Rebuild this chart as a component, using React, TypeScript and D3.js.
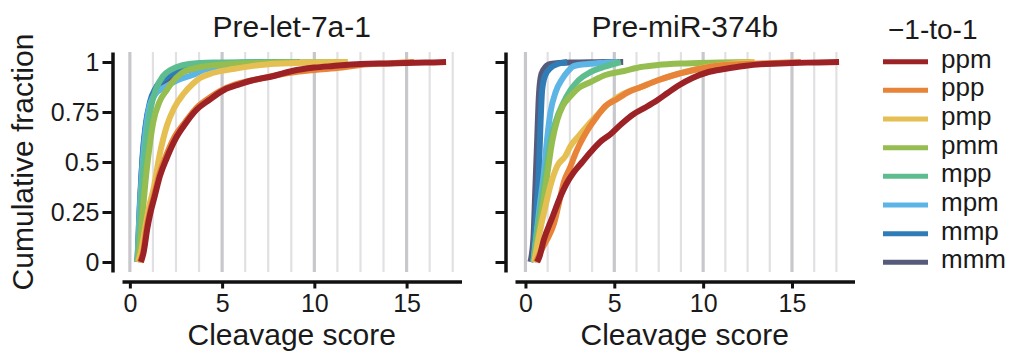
import React, { useRef, useEffect } from 'react';
import * as d3 from 'd3';

// series (legend order, top to bottom)
const series = ['ppm', 'ppp', 'pmp', 'pmm', 'mpp', 'mpm', 'mmp', 'mmm'];
const seriesColors = ['#9c2226', '#e8833a', '#e6bf52', '#95bd4f', '#5ebd8f', '#5cb5e5', '#2f7cb7', '#575b7b'];
const panelTitles = ['Pre-let-7a-1', 'Pre-miR-374b'];
const xTicks = [0, 5, 10, 15];
const gridBreaks = [0, 1.25, 2.5, 3.75, 5, 6.25, 7.5, 8.75, 10, 11.25, 12.5, 13.75, 15, 16.25, 17.5];
const yTicks = [0, 0.25, 0.5, 0.75, 1];

// Pre-let-7a-1: [cleavage score, cumulative fraction]
const let7_ppm = [[0.6, 0], [0.75, 0.05], [0.95, 0.17], [1.1, 0.24], [1.35, 0.33], [1.63, 0.43], [2.0, 0.52], [2.5, 0.62], [3.0, 0.69], [3.6, 0.76], [4.3, 0.81], [5.1, 0.86], [6.0, 0.89], [6.5, 0.905], [7.8, 0.93], [8.8, 0.955], [10.0, 0.972], [11.0, 0.98], [12.5, 0.99], [14.0, 0.993], [15.5, 0.996], [16.5, 0.998], [17.14, 1]];
const let7_ppp = [[0.55, 0], [0.72, 0.05], [0.92, 0.18], [1.08, 0.25], [1.33, 0.34], [1.6, 0.44], [2.0, 0.54], [2.45, 0.63], [3.0, 0.7], [3.6, 0.77], [4.3, 0.82], [5.1, 0.865], [6.0, 0.895], [7.0, 0.915], [8.0, 0.935], [9.0, 0.95], [10.0, 0.96], [11.5, 0.972], [12.5, 0.985], [14.0, 0.993], [15.4, 1]];
const let7_pmp = [[0.45, 0], [0.6, 0.05], [0.85, 0.18], [1.05, 0.28], [1.27, 0.36], [1.6, 0.53], [2.0, 0.68], [2.4, 0.77], [2.9, 0.84], [3.4, 0.89], [3.8, 0.92], [4.5, 0.945], [5.6, 0.965], [6.5, 0.978], [7.4, 0.988], [9.0, 0.995], [10.5, 0.998], [11.8, 1]];
const let7_pmm = [[0.42, 0], [0.55, 0.08], [0.7, 0.25], [0.9, 0.45], [1.1, 0.6], [1.27, 0.7], [1.6, 0.8], [2.0, 0.86], [2.5, 0.92], [2.9, 0.95], [3.6, 0.97], [4.7, 0.985], [6.0, 0.993], [8.0, 0.997], [10.0, 0.999], [11.8, 1]];
const let7_mpp = [[0.41, 0], [0.52, 0.15], [0.72, 0.45], [0.9, 0.63], [1.09, 0.75], [1.4, 0.86], [1.8, 0.93], [2.2, 0.96], [2.54, 0.975], [3.2, 0.99], [4.5, 0.997], [6.5, 0.999], [8.7, 1]];
const let7_mpm = [[0.41, 0], [0.5, 0.2], [0.66, 0.45], [0.85, 0.65], [1.0, 0.75], [1.3, 0.83], [2.0, 0.88], [2.6, 0.91], [3.4, 0.935], [4.0, 0.96], [4.7, 0.975], [6.0, 0.99], [7.5, 0.996], [9.1, 1]];
const let7_mmp = [[0.42, 0], [0.52, 0.2], [0.69, 0.53], [0.85, 0.68], [1.09, 0.8], [1.4, 0.87], [2.0, 0.925], [2.6, 0.955], [3.5, 0.975], [5.0, 0.99], [7.4, 1]];
const let7_mmm = [[0.41, 0], [0.52, 0.25], [0.72, 0.55], [0.9, 0.7], [1.15, 0.8], [1.5, 0.86], [2.0, 0.91], [2.8, 0.95], [4.0, 0.975], [6.0, 0.992], [8.5, 0.998], [9.2, 1]];

// Pre-miR-374b
const mir_ppm = [[0.66, 0], [0.8, 0.03], [1.03, 0.11], [1.5, 0.22], [1.98, 0.33], [2.3, 0.39], [2.73, 0.45], [3.2, 0.5], [3.67, 0.55], [4.2, 0.6], [4.8, 0.64], [5.4, 0.69], [6.1, 0.74], [6.8, 0.775], [7.44, 0.81], [8.0, 0.845], [8.57, 0.88], [9.4, 0.92], [10.3, 0.95], [11.2, 0.965], [12.3, 0.98], [13.5, 0.99], [15.0, 0.995], [16.5, 0.998], [17.65, 1]];
const mir_ppp = [[0.6, 0], [0.9, 0.06], [1.2, 0.11], [1.6, 0.19], [1.9, 0.3], [2.16, 0.4], [2.5, 0.47], [2.85, 0.55], [3.5, 0.66], [4.05, 0.73], [4.5, 0.78], [5.07, 0.81], [5.8, 0.85], [6.5, 0.875], [7.5, 0.91], [8.57, 0.94], [9.5, 0.96], [10.5, 0.978], [11.2, 0.985], [12.5, 0.99], [14.0, 0.995], [15.5, 1]];
const mir_pmp = [[0.5, 0], [0.7, 0.1], [0.9, 0.19], [1.13, 0.28], [1.4, 0.38], [1.79, 0.48], [2.25, 0.53], [2.54, 0.58], [3.0, 0.63], [3.67, 0.7], [4.2, 0.75], [4.8, 0.8], [5.5, 0.84], [6.5, 0.875], [7.5, 0.91], [8.57, 0.94], [9.5, 0.962], [10.3, 0.976], [11.5, 0.99], [12.9, 1]];
const mir_pmm = [[0.5, 0], [0.7, 0.12], [1.0, 0.3], [1.23, 0.44], [1.5, 0.6], [1.79, 0.71], [2.1, 0.78], [2.54, 0.83], [3.0, 0.87], [3.67, 0.9], [4.5, 0.935], [5.55, 0.955], [6.5, 0.975], [7.44, 0.985], [9.0, 0.993], [11.0, 0.998], [12.7, 1]];
const mir_mpp = [[0.45, 0], [0.65, 0.15], [0.9, 0.3], [1.13, 0.44], [1.4, 0.6], [1.69, 0.7], [2.1, 0.79], [2.54, 0.86], [3.0, 0.91], [3.67, 0.95], [4.4, 0.975], [5.37, 1]];
const mir_mpm = [[0.45, 0], [0.6, 0.12], [0.8, 0.28], [1.03, 0.44], [1.2, 0.6], [1.41, 0.75], [1.7, 0.85], [2.07, 0.915], [2.4, 0.955], [2.73, 0.98], [3.5, 0.99], [4.5, 0.997], [5.2, 1]];
const mir_mmp = [[0.45, 0], [0.55, 0.15], [0.65, 0.3], [0.75, 0.44], [0.85, 0.7], [0.94, 0.86], [1.1, 0.93], [1.41, 0.97], [1.8, 0.99], [2.35, 1]];
const mir_mmm = [[0.28, 0], [0.45, 0.12], [0.55, 0.35], [0.66, 0.61], [0.75, 0.82], [0.85, 0.92], [1.0, 0.96], [1.4, 0.99], [2.5, 0.997], [4.0, 0.999], [5.5, 1]];

const let7Curves = [let7_ppm, let7_ppp, let7_pmp, let7_pmm, let7_mpp, let7_mpm, let7_mmp, let7_mmm];
const mirCurves = [mir_ppm, mir_ppp, mir_pmp, mir_pmm, mir_mpp, mir_mpm, mir_mmp, mir_mmm];

const FONT = '"Liberation Sans", Arial, Helvetica, sans-serif';

const App = () => {
  const svgRef = useRef(null);

  useEffect(() => {
    const svg = d3.select(svgRef.current);
    svg.selectAll('*').remove();

    const top = 52;
    const bottom = 272;
    const panels = [
      { title: panelTitles[0], curves: let7Curves, left: 122, right: 461.5, labels: true },
      { title: panelTitles[1], curves: mirCurves, left: 515, right: 854.5, labels: false },
    ];

    const y = d3.scaleLinear().domain([-0.05, 1.05]).range([bottom, top]);

    panels.forEach(p => {
      // free x scale with 5% expansion, like ggplot
      const all = p.curves.flat();
      const [lo, hi] = d3.extent(all, d => d[0]);
      const pad = (hi - lo) * 0.05;
      const x = d3.scaleLinear().domain([lo - pad, hi + pad]).range([p.left, p.right]);

      const g = svg.append('g');

      // vertical grid lines
      g.selectAll('.grid')
        .data(gridBreaks.filter(b => b >= x.domain()[0] && b <= x.domain()[1]))
        .enter()
        .append('line')
        .attr('x1', d => x(d))
        .attr('x2', d => x(d))
        .attr('y1', top)
        .attr('y2', bottom)
        .attr('stroke', d => (d % 5 === 0 ? '#c8c8cc' : '#e1e1e3'))
        .attr('stroke-width', d => (d % 5 === 0 ? 3.2 : 2.2));

      // curves, ppm drawn last
      const line = d3.line()
        .x(d => x(d[0]))
        .y(d => y(d[1]))
        .curve(d3.curveMonotoneX);

      const order = d3.range(series.length).reverse();
      g.selectAll('.curve')
        .data(order)
        .enter()
        .append('path')
        .attr('d', i => line(p.curves[i]))
        .attr('fill', 'none')
        .attr('stroke', i => seriesColors[i])
        .attr('stroke-width', 6)
        .attr('stroke-linejoin', 'round');

      // y axis (offset left of panel)
      const yAxis = d3.axisLeft(y)
        .tickValues(yTicks)
        .tickSize(10)
        .tickSizeOuter(0)
        .tickPadding(3)
        .tickFormat(d => (p.labels ? String(d) : ''));
      const ya = g.append('g')
        .attr('transform', `translate(${p.left - 9.5},0)`)
        .call(yAxis);

      // x axis (offset below panel)
      const xAxis = d3.axisBottom(x)
        .tickValues(xTicks)
        .tickSize(7)
        .tickSizeOuter(0)
        .tickPadding(6);
      const xa = g.append('g')
        .attr('transform', `translate(0,${bottom + 9.5})`)
        .call(xAxis);

      [ya, xa].forEach(a => {
        a.select('.domain').attr('stroke', '#111').attr('stroke-width', 3.5);
        a.selectAll('.tick line').attr('stroke', '#111').attr('stroke-width', 3);
        a.selectAll('.tick text')
          .attr('fill', '#1a1a1a')
          .style('font-family', FONT)
          .style('font-size', '25px');
      });
      xa.selectAll('.tick text').attr('dy', '0.71em');

      // panel title
      g.append('text')
        .attr('x', (p.left + p.right) / 2)
        .attr('y', 37)
        .attr('text-anchor', 'middle')
        .style('font-family', FONT)
        .style('font-size', '30px')
        .attr('fill', '#1a1a1a')
        .text(p.title);

      // x axis title
      g.append('text')
        .attr('x', (p.left + p.right) / 2)
        .attr('y', 345)
        .attr('text-anchor', 'middle')
        .style('font-family', FONT)
        .style('font-size', '30px')
        .attr('fill', '#1a1a1a')
        .text('Cleavage score');
    });

    // y axis title
    svg.append('text')
      .attr('transform', `translate(33,${(top + bottom) / 2}) rotate(-90)`)
      .attr('text-anchor', 'middle')
      .style('font-family', FONT)
      .style('font-size', '30px')
      .attr('fill', '#1a1a1a')
      .text('Cumulative fraction');

    // legend
    const legend = svg.append('g');
    legend.append('text')
      .attr('x', 888)
      .attr('y', 39)
      .style('font-family', FONT)
      .style('font-size', '28px')
      .attr('fill', '#1a1a1a')
      .text('\u22121-to-1');

    const ly = d3.scalePoint().domain(series).range([61.7, 262.3]);
    series.forEach((s, i) => {
      legend.append('line')
        .attr('x1', 883)
        .attr('x2', 928)
        .attr('y1', ly(s))
        .attr('y2', ly(s))
        .attr('stroke', seriesColors[i])
        .attr('stroke-width', 5);
      legend.append('text')
        .attr('x', 941)
        .attr('y', ly(s) + 6)
        .style('font-family', FONT)
        .style('font-size', '26px')
        .attr('fill', '#1a1a1a')
        .text(s);
    });
  }, []);

  return (
    <svg
      ref={svgRef}
      width={1023}
      height={351}
      style={{ position: 'absolute', left: 0, top: 0, display: 'block', background: '#fff' }}
    />
  );
};

export default App;
